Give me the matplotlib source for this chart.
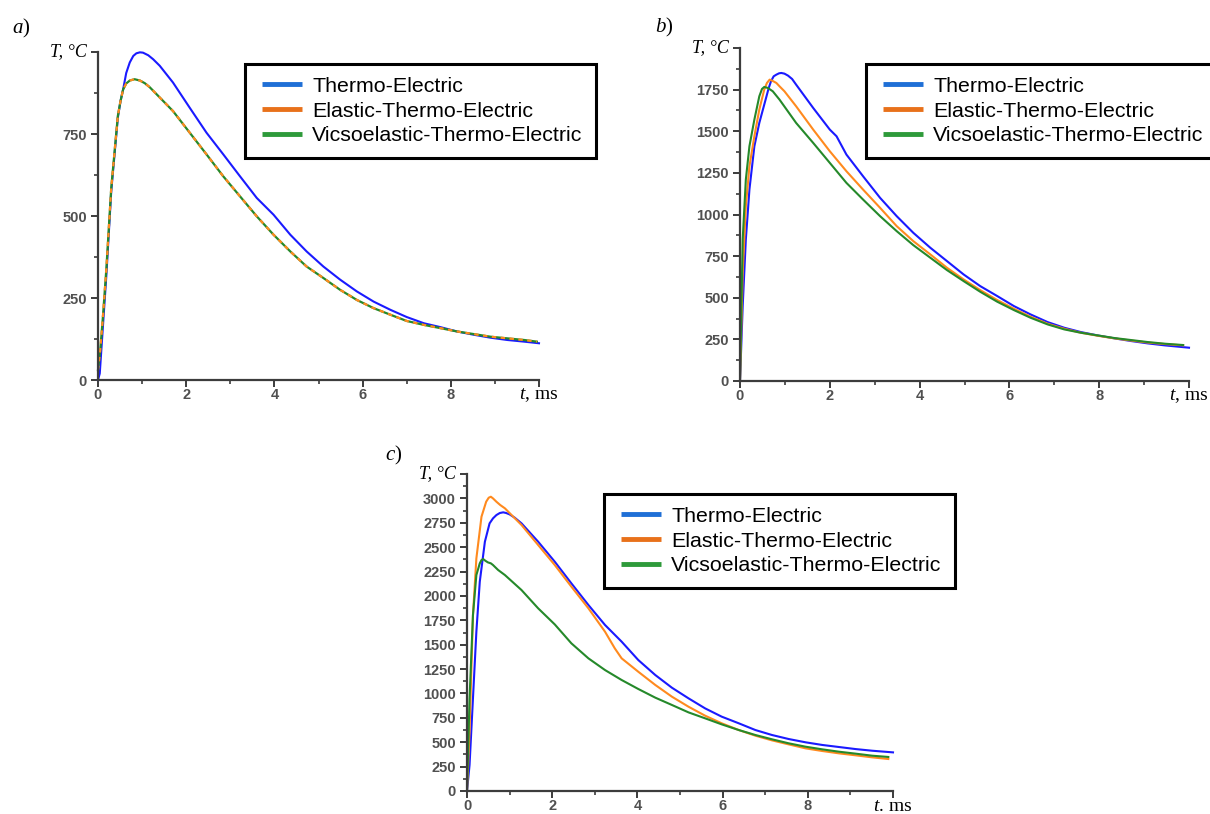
import numpy as np
import matplotlib
matplotlib.use('Agg')
import matplotlib.pyplot as plt
from matplotlib.ticker import MultipleLocator
from matplotlib.lines import Line2D
from matplotlib.legend_handler import HandlerBase

plt.rcParams['mathtext.fontset'] = 'custom'
plt.rcParams['mathtext.it'] = 'Liberation Serif:italic'
plt.rcParams['mathtext.rm'] = 'Liberation Serif'

series_labels = ['Thermo-Electric', 'Elastic-Thermo-Electric', 'Vicsoelastic-Thermo-Electric']

# ---- panel a ----
a_blue_t = [0, 0.04, 0.11, 0.19, 0.30, 0.45, 0.51, 0.57, 0.64, 0.72, 0.80, 0.87, 0.95, 1.02, 1.14, 1.25, 1.4,
            1.7, 2.08, 2.46, 2.84, 3.22, 3.6, 3.98, 4.36, 4.73, 5.11, 5.49, 5.87, 6.25, 6.63, 7.0, 7.39,
            7.77, 8.14, 8.52, 8.9, 9.28, 9.66, 10.0]
a_blue_T = [0, 20, 160, 320, 575, 800, 850, 886, 936, 968, 988, 996, 999, 998, 990, 978, 958,
            907, 830, 754, 688, 621, 555, 504, 443, 392, 346, 306, 270, 239, 214, 192, 173,
            161, 148, 138, 129, 122, 117, 112]
a_elas_t = [0, 0.05, 0.11, 0.19, 0.30, 0.45, 0.51, 0.57, 0.64, 0.72, 0.83, 0.95, 1.06, 1.17, 1.33, 1.7,
            2.08, 2.46, 2.84, 3.22, 3.6, 3.98, 4.36, 4.73, 5.11, 5.49, 5.87, 6.25, 6.63, 7.0, 7.39, 7.77,
            8.14, 8.52, 8.9, 9.28, 9.66, 9.95]
a_elas_T = [30, 90, 190, 340, 585, 805, 850, 886, 904, 913, 917, 913, 905, 893, 871, 820,
            754, 688, 621, 560, 499, 443, 392, 346, 311, 275, 244, 219, 199, 180, 168, 158,
            148, 140, 132, 127, 122, 117]
a_visc_t = a_elas_t
a_visc_T = a_elas_T

# ---- panel b ----
b_blue_t = [0, 0.06, 0.13, 0.21, 0.32, 0.43, 0.58, 0.64, 0.69, 0.75, 0.81, 0.87, 0.92, 0.99, 1.07, 1.16,
            1.25, 1.63, 2.0, 2.15, 2.37, 2.74, 3.12, 3.49, 3.86, 4.24, 4.61, 4.98, 5.35, 5.73, 6.1, 6.47,
            6.85, 7.22, 7.59, 7.96, 8.34, 8.71, 9.08, 9.46, 10.0]
b_blue_T = [0, 450, 850, 1150, 1410, 1550, 1700, 1760, 1800, 1830, 1840, 1848, 1850, 1846, 1834, 1814,
            1780, 1640, 1510, 1470, 1360, 1230, 1100, 990, 890, 800, 720, 640, 570, 510, 450, 400,
            354, 320, 294, 274, 256, 240, 226, 214, 200]
b_elas_t = [0, 0.06, 0.13, 0.21, 0.32, 0.43, 0.54, 0.60, 0.66, 0.73, 0.81, 0.88, 0.99, 1.25, 1.63, 2.0,
            2.37, 2.74, 3.12, 3.49, 3.86, 4.24, 4.61, 4.98, 5.35, 5.73, 6.1, 6.47, 6.85, 7.22, 7.59, 7.96,
            8.34, 8.71, 9.08, 9.46, 9.87]
b_elas_T = [0, 650, 1050, 1290, 1470, 1630, 1750, 1790, 1810, 1802, 1790, 1770, 1740, 1650, 1510, 1380,
            1260, 1150, 1040, 930, 840, 760, 680, 610, 546, 486, 434, 386, 344, 314, 290, 272,
            256, 243, 231, 222, 214]
b_visc_t = [0, 0.06, 0.13, 0.21, 0.32, 0.43, 0.49, 0.54, 0.62, 0.73, 0.88, 1.25, 1.63, 2.0, 2.37, 2.74,
            3.12, 3.49, 3.86, 4.24, 4.61, 4.98, 5.35, 5.73, 6.1, 6.47, 6.85, 7.22, 7.59, 7.96, 8.34, 8.71,
            9.08, 9.46, 9.87]
b_visc_T = [0, 850, 1210, 1410, 1570, 1710, 1754, 1766, 1760, 1740, 1690, 1550, 1430, 1310, 1190, 1090,
            990, 900, 816, 740, 666, 600, 536, 476, 426, 380, 340, 310, 290, 274, 258, 246,
            234, 224, 216]

# ---- panel c ----
c_blue_t = [0, 0.06, 0.14, 0.22, 0.30, 0.42, 0.53, 0.61, 0.69, 0.77, 0.85, 0.92, 1.0, 1.12, 1.28, 1.67,
            2.06, 2.45, 2.85, 3.24, 3.63, 4.02, 4.42, 4.81, 5.2, 5.59, 5.98, 6.38, 6.77, 7.16, 7.55, 7.95,
            8.34, 8.73, 9.12, 9.51, 10.0]
c_blue_T = [0, 267, 950, 1633, 2146, 2556, 2744, 2795, 2829, 2850, 2857, 2850, 2836, 2802, 2744, 2556,
            2351, 2129, 1907, 1702, 1531, 1343, 1189, 1059, 950, 847, 762, 694, 625, 574, 533, 499,
            472, 451, 430, 413, 396]
c_elas_t = [0, 0.06, 0.14, 0.22, 0.34, 0.45, 0.51, 0.56, 0.61, 0.69, 0.78, 0.89, 1.28, 1.67, 2.06, 2.45,
            2.85, 3.24, 3.47, 3.63, 4.02, 4.42, 4.81, 5.2, 5.59, 5.98, 6.38, 6.77, 7.16, 7.55, 7.95, 8.34,
            8.73, 9.12, 9.51, 9.89]
c_elas_T = [0, 608, 1804, 2385, 2812, 2966, 3007, 3017, 3000, 2966, 2932, 2898, 2727, 2522, 2317, 2095,
            1873, 1633, 1462, 1360, 1223, 1087, 967, 864, 772, 694, 625, 567, 519, 478, 437, 410,
            386, 366, 345, 328]
c_visc_t = [0, 0.06, 0.14, 0.22, 0.30, 0.34, 0.38, 0.43, 0.49, 0.56, 0.61, 0.73, 0.89, 1.28, 1.67, 2.06,
            2.45, 2.85, 3.24, 3.63, 4.02, 4.42, 4.81, 5.2, 5.59, 5.98, 6.38, 6.77, 7.16, 7.55, 7.95, 8.34,
            8.73, 9.12, 9.51, 9.89]
c_visc_T = [0, 950, 1804, 2214, 2334, 2368, 2378, 2361, 2344, 2334, 2317, 2266, 2214, 2060, 1873, 1708,
            1514, 1360, 1240, 1138, 1046, 957, 882, 806, 745, 683, 625, 574, 530, 489, 454, 427,
            403, 383, 362, 349]

line_blue = '#1a1aff'
line_orange = '#ff8a1e'
line_green = '#25892a'
leg_blue = '#1f6fd6'
leg_orange = '#e8711a'
leg_green = '#2e9a3a'
axis_col = '#3c3c3c'
tick_col = '#505050'

fig = plt.figure(figsize=(12.1, 8.14), dpi=100)
W, H = 1210.0, 814.0


def make_ax(left, top, right, bottom):
    return fig.add_axes([left / W, 1 - bottom / H, (right - left) / W, (bottom - top) / H])


def style(ax, ymax, tlabel):
    ax.set_xlim(0, 10)
    ax.set_ylim(0, ymax)
    for s in ['top', 'right']:
        ax.spines[s].set_visible(False)
    for s in ['left', 'bottom']:
        ax.spines[s].set_color(axis_col)
        ax.spines[s].set_linewidth(1.6)
    xt = [0, 2, 4, 6, 8, 10]
    ax.set_xticks(xt)
    ax.set_xticklabels(['0', '2', '4', '6', '8', ''], fontweight='bold', family='Liberation Sans')
    ax.xaxis.set_minor_locator(MultipleLocator(1))
    yt = list(range(0, ymax + 1, 250))
    ax.set_yticks(yt)
    ax.set_yticklabels([str(v) for v in yt[:-1]] + [''], fontweight='bold', family='Liberation Sans')
    ax.yaxis.set_minor_locator(MultipleLocator(125))
    ax.tick_params(which='major', direction='out', length=5, width=1.4, color=axis_col,
                   labelsize=10.5, labelcolor=tick_col)
    ax.tick_params(which='minor', direction='out', length=3, width=1.2, color=axis_col)
    ax.tick_params(axis='x', pad=1)
    ax.tick_params(axis='y', pad=3)
    ax.annotate('T, °C', xy=(0, 1), xycoords='axes fraction', xytext=(-8, 0),
                textcoords='offset points', ha='right', va='center', fontsize=13,
                family='Liberation Serif', style='italic')
    ax.annotate(tlabel, xy=(1, 0), xycoords='axes fraction', xytext=(0, -11),
                textcoords='offset points', ha='center', va='center', fontsize=14,
                family='Liberation Serif')


class InsetLineHandler(HandlerBase):
    """Legend line drawn with a small inset on the left of the handle box."""
    def create_artists(self, legend, orig_handle, xdescent, ydescent, width, height, fontsize, trans):
        y = height / 2.0 - ydescent
        inset = 3.0
        line = Line2D([-xdescent + inset, width - xdescent], [y, y],
                      color=orig_handle.get_color(), lw=orig_handle.get_linewidth(),
                      solid_capstyle='butt')
        line.set_transform(trans)
        return [line]


def legend(ax, x, y):
    handles = [Line2D([], [], color=leg_blue, lw=3.5),
               Line2D([], [], color=leg_orange, lw=3.5),
               Line2D([], [], color=leg_green, lw=3.5)]
    leg = ax.legend(handles, series_labels, loc='upper left', bbox_to_anchor=(x / W, 1 - y / H),
                    bbox_transform=fig.transFigure, borderaxespad=0, fancybox=False,
                    frameon=True, edgecolor='black', framealpha=1,
                    prop={'family': 'Liberation Sans', 'size': 15.4},
                    handlelength=2.05, handletextpad=0.5, labelspacing=0.27, borderpad=0.6,
                    handler_map={Line2D: InsetLineHandler()})
    leg.get_frame().set_linewidth(2.2)
    return leg


# panel a
ax_a = make_ax(98, 52, 539, 380)
ax_a.plot(a_blue_t, a_blue_T, color=line_blue, lw=1.5, clip_on=False)
ax_a.plot(a_visc_t, a_visc_T, color=line_green, lw=1.6, clip_on=False)
ax_a.plot(a_elas_t, a_elas_T, color=line_orange, lw=1.6, ls=(0, (2, 2)), clip_on=False)
style(ax_a, 1000, '$t$, ms')
legend(ax_a, 245, 64)

# panel b
ax_b = make_ax(740, 48, 1189, 381)
ax_b.plot(b_blue_t, b_blue_T, color=line_blue, lw=1.5, clip_on=False)
ax_b.plot(b_elas_t, b_elas_T, color=line_orange, lw=1.5, clip_on=False)
ax_b.plot(b_visc_t, b_visc_T, color=line_green, lw=1.5, clip_on=False)
style(ax_b, 2000, '$t$, ms')
legend(ax_b, 866, 64)

# panel c
ax_c = make_ax(467, 474, 893, 791)
ax_c.plot(c_blue_t, c_blue_T, color=line_blue, lw=1.5, clip_on=False)
ax_c.plot(c_elas_t, c_elas_T, color=line_orange, lw=1.5, clip_on=False)
ax_c.plot(c_visc_t, c_visc_T, color=line_green, lw=1.5, clip_on=False)
style(ax_c, 3250, '$t$. ms')
legend(ax_c, 604, 494)

# panel letters
for txt, px, py in [('$a$)', 12, 28), ('$b$)', 655, 27), ('$c$)', 385, 455)]:
    fig.text(px / W, 1 - py / H, txt, ha='left', va='center', fontsize=15, family='Liberation Serif')

fig.savefig('out.png', dpi=100)
